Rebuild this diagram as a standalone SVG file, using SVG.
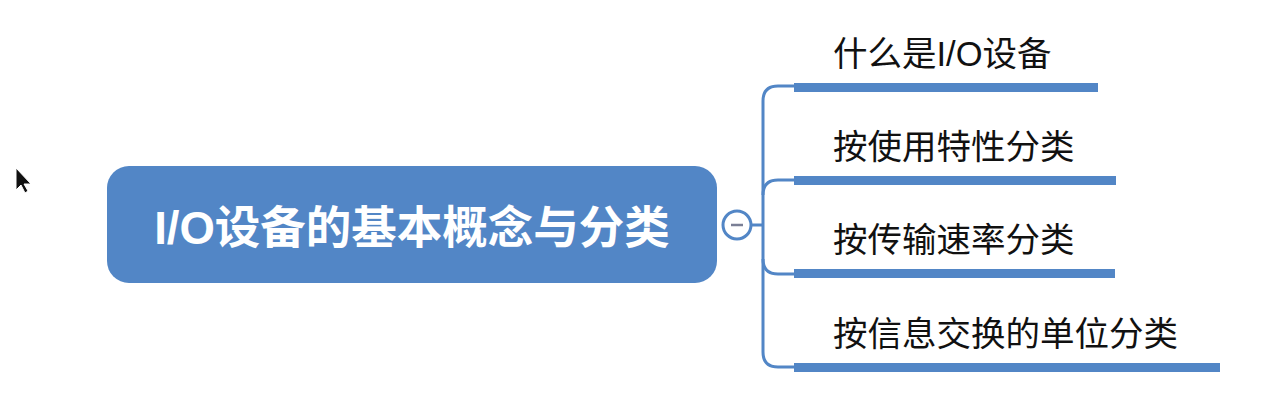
<svg xmlns="http://www.w3.org/2000/svg" width="1277" height="405" viewBox="0 0 1277 405">
<style>
.lbl{font-family:"Liberation Sans","Noto Sans CJK SC",sans-serif;font-size:34.5px;fill:#111}
.root{font-family:"Liberation Sans","Noto Sans CJK SC",sans-serif;font-size:45.5px;font-weight:bold;fill:#fff}
.ul{fill:#5286C6}
.conn{fill:none;stroke:#5286C6;stroke-width:3}
</style>
<rect width="1277" height="405" fill="#fff"/>
<g id="cursor">
<polygon points="16,168 16,190 21,185 25,193 28,191 24,184 31,184" fill="#111" stroke="#fff" stroke-width="1"/>
</g>
<g id="connectors">
<path class="conn" d="M751,225 H763"/>
<path class="conn" d="M794,86 H778 Q763,86 763,101 V352 Q763,367 778,367 H794"/>
<path class="conn" d="M794,180 H778 Q763,180 763,195"/>
<path class="conn" d="M763,259 Q763,274 778,274 H794"/>
</g>
<g id="root">
<rect x="107" y="166" width="610" height="117" rx="22" fill="#5286C6"/>
<text class="root" x="412" y="244" text-anchor="middle">I/O设备的基本概念与分类</text>
</g>
<g id="toggle">
<circle cx="737" cy="225" r="14" fill="#fff" stroke="#5286C6" stroke-width="3"/>
<line x1="731" y1="225" x2="743" y2="225" stroke="#7a7f95" stroke-width="2.5"/>
</g>
<g id="n1">
<text class="lbl" x="833" y="66">什么是I/O设备</text>
<rect class="ul" x="794" y="83" width="304" height="9"/>
</g>
<g id="n2">
<text class="lbl" x="833" y="159">按使用特性分类</text>
<rect class="ul" x="794" y="176" width="322" height="9"/>
</g>
<g id="n3">
<text class="lbl" x="833" y="252">按传输速率分类</text>
<rect class="ul" x="794" y="269" width="321" height="9"/>
</g>
<g id="n4">
<text class="lbl" x="833" y="346">按信息交换的单位分类</text>
<rect class="ul" x="794" y="363" width="426" height="9"/>
</g>
</svg>
